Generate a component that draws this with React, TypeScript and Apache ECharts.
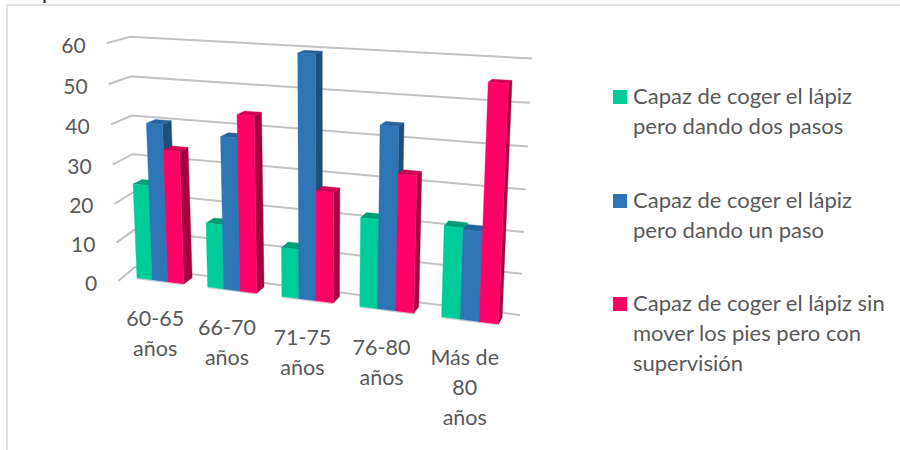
import React, { useEffect, useRef } from "react";
import * as echarts from "echarts";

// Age bands and the three response groups
const categories = ["60-65\naños", "66-70\naños", "71-75\naños", "76-80\naños", "Más de\n80\naños"];
const seriesNames = [
  "Capaz de coger el lápiz\npero dando dos pasos",
  "Capaz de coger el lápiz\npero dando un paso",
  "Capaz de coger el lápiz sin\nmover los pies pero con\nsupervisión",
];
const twoSteps = [24.6, 16.5, 12.4, 21.8, 21.8];
const oneStep = [40.3, 38.4, 59.3, 43.9, 21.4];
const noStep = [33.9, 44, 27.2, 32.9, 55];
const valueTicks = [0, 10, 20, 30, 40, 50, 60];

const FONT = "Lato";
const TEXT_COLOR = "#595959";
const GRID_COLOR = "#C2C2C2";
const PALETTE = [
  { front: "#00CC99", top: "#009E77", side: "#00916D" },
  { front: "#2E75B6", top: "#27639B", side: "#1F4E79" },
  { front: "#FF0066", top: "#D00054", side: "#A50042" },
];

type Pt = [number, number];

// Projective map of the unit square onto a quad: (0,0) p0, (1,0) p1, (1,1) p2, (0,1) p3
function quadMap(p0: Pt, p1: Pt, p2: Pt, p3: Pt) {
  const dx1 = p1[0] - p2[0], dx2 = p3[0] - p2[0], sx = p0[0] - p1[0] + p2[0] - p3[0];
  const dy1 = p1[1] - p2[1], dy2 = p3[1] - p2[1], sy = p0[1] - p1[1] + p2[1] - p3[1];
  const den = dx1 * dy2 - dx2 * dy1;
  const g = (sx * dy2 - dx2 * sy) / den;
  const h = (dx1 * sy - sx * dy1) / den;
  const a = p1[0] - p0[0] + g * p1[0], b = p3[0] - p0[0] + h * p3[0];
  const d = p1[1] - p0[1] + g * p1[1], e = p3[1] - p0[1] + h * p3[1];
  return (s: number, t: number): Pt => {
    const w = g * s + h * t + 1;
    return [(a * s + b * t + p0[0]) / w, (d * s + e * t + p0[1]) / w];
  };
}

// Planes of the 3D scene
const barPlane = quadMap([125.5, 276.5], [513, 326], [525, 61], [115, 41]);
const backWall = quadMap([135, 267], [520, 315], [532, 58.5], [130, 36.7]);
const SIDE_BOTTOM: Pt = [118.3, 281];
const SIDE_TOP: Pt = [106.7, 43.3];
const VANISH: Pt = [742, -123];
const BAR_DEPTH = 0.015;
const GROUP_INSET = 1 / 6;
const BAR_SHARE = (1 - 2 * GROUP_INSET) / 3;

const recede = (p: Pt, k: number): Pt => [p[0] + (VANISH[0] - p[0]) * k, p[1] + (VANISH[1] - p[1]) * k];

// The near edge of the side wall takes the same vertical spacing as the wall's corner
function nearEdge(t: number): Pt {
  const low = backWall(0, 0), high = backWall(0, 1), at = backWall(0, t);
  const k = (low[1] - at[1]) / (low[1] - high[1]);
  return [SIDE_BOTTOM[0] + (SIDE_TOP[0] - SIDE_BOTTOM[0]) * k, SIDE_BOTTOM[1] + (SIDE_TOP[1] - SIDE_BOTTOM[1]) * k];
}

function toUnit(api: any, params: any, x: number, y: number): Pt {
  const cs = params.coordSys;
  const c = api.coord([x, y]);
  return [(c[0] - cs.x) / cs.width, (cs.y + cs.height - c[1]) / cs.height];
}

function barItem(order: number) {
  return (params: any, api: any) => {
    const band = api.value(0) as number;
    const val = api.value(1) as number;
    const left = band + GROUP_INSET + order * BAR_SHARE;
    const right = left + BAR_SHARE;
    const [s0, t0] = toUnit(api, params, left, 0);
    const [s1, t1] = toUnit(api, params, right, val);
    const fl0 = barPlane(s0, t0), fr0 = barPlane(s1, t0);
    const fr1 = barPlane(s1, t1), fl1 = barPlane(s0, t1);
    const colors = PALETTE[order];
    const poly = (points: Pt[], fill: string) => ({
      type: "polygon",
      shape: { points },
      style: { fill, stroke: fill, lineWidth: 0.4 },
    });
    return {
      type: "group",
      children: [
        // Soft edge where the bar meets the floor
        {
          type: "polyline",
          shape: { points: [[fl0[0], fl0[1] + 0.8], [fr0[0], fr0[1] + 0.8]] },
          style: { fill: "none", stroke: "#CFCFCF", lineWidth: 1 },
        },
        poly([fr0, recede(fr0, BAR_DEPTH), recede(fr1, BAR_DEPTH), fr1], colors.side),
        poly([fl1, fr1, recede(fr1, BAR_DEPTH), recede(fl1, BAR_DEPTH)], colors.top),
        poly([fl0, fr0, fr1, fl1], colors.front),
      ],
    };
  };
}

function wallItem(params: any, api: any) {
  const tick = api.value(0) as number;
  const t = toUnit(api, params, 0, tick)[1];
  const frontPt = nearEdge(t);
  const cornerPt = backWall(0, t);
  const endPt = backWall(1, t);
  return {
    type: "group",
    children: [
      {
        type: "polyline",
        shape: { points: [frontPt, cornerPt, endPt] },
        style: { fill: "none", stroke: GRID_COLOR, lineWidth: 2 },
      },
      {
        type: "text",
        style: {
          x: frontPt[0] - 21,
          y: frontPt[1] + 1,
          text: String(tick),
          align: "right",
          verticalAlign: "middle",
          fill: TEXT_COLOR,
          font: `21px ${FONT}`,
        },
      },
    ],
  };
}

function categoryItem(params: any, api: any) {
  const i = api.value(0) as number;
  const [s, t] = toUnit(api, params, i + 0.5, 0);
  const base = barPlane(s, t);
  return {
    type: "text",
    style: {
      x: base[0] - 5,
      y: base[1] + 22,
      text: categories[i],
      align: "center",
      verticalAlign: "top",
      lineHeight: 30,
      fill: TEXT_COLOR,
      font: `21.5px ${FONT}`,
    },
  };
}

const seriesValues = [twoSteps, oneStep, noStep];

export default function App() {
  const ref = useRef<HTMLDivElement>(null);
  useEffect(() => {
    const chart = echarts.init(ref.current!, undefined, { renderer: "svg" });
    const legendTops = [97, 201, 304];
    chart.setOption({
      animation: false,
      backgroundColor: "#FFFFFF",
      grid: { left: 0, right: 0, top: 0, bottom: 0 },
      xAxis: { type: "value", min: 0, max: categories.length, show: false },
      yAxis: { type: "value", min: 0, max: 60, interval: 10, show: false },
      graphic: [
        // Frame of the embedded figure and the clipped stroke above it
        { type: "line", shape: { x1: 7, y1: 5, x2: 900, y2: 5 }, style: { stroke: "#D9D9D9", lineWidth: 1.5 } },
        { type: "line", shape: { x1: 7, y1: 5, x2: 7, y2: 450 }, style: { stroke: "#D9D9D9", lineWidth: 1.5 } },
        { type: "rect", shape: { x: 43.5, y: 0, width: 2, height: 3 }, style: { fill: "#222222" } },
        ...seriesNames.flatMap((name, i) => [
          {
            type: "rect",
            shape: { x: 613, y: legendTops[i] - 7, width: 14, height: 14 },
            style: { fill: PALETTE[i].front },
          },
          {
            type: "text",
            style: {
              x: 633,
              y: legendTops[i] - 16.5,
              text: name,
              verticalAlign: "top",
              lineHeight: 30,
              fill: TEXT_COLOR,
              font: `22px ${FONT}`,
            },
          },
        ]),
      ],
      series: [
        {
          type: "custom",
          name: "walls",
          coordinateSystem: "cartesian2d",
          renderItem: wallItem,
          data: valueTicks.map((v) => [v]),
          encode: { y: 0 },
          clip: false,
          silent: true,
        },
        ...seriesValues.map((values, order) => ({
          type: "custom",
          name: seriesNames[order],
          coordinateSystem: "cartesian2d",
          renderItem: barItem(order),
          data: values.map((v, i) => [i, v]),
          encode: { x: 0, y: 1 },
          clip: false,
          silent: true,
        })),
        {
          type: "custom",
          name: "categories",
          coordinateSystem: "cartesian2d",
          renderItem: categoryItem,
          data: categories.map((_, i) => [i]),
          encode: { x: 0 },
          clip: false,
          silent: true,
        },
      ],
    });
    return () => chart.dispose();
  }, []);
  return <div ref={ref} style={{ position: "fixed", left: 0, top: 0, width: 900, height: 450 }} />;
}
